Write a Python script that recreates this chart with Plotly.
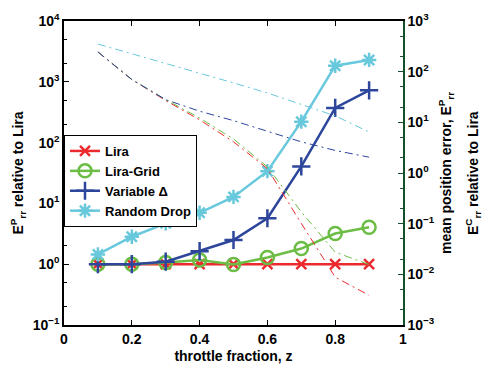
import plotly.graph_objects as go

# throttle fraction
z = [0.1, 0.2, 0.3, 0.4, 0.5, 0.6, 0.7, 0.8, 0.9]

# E^P_rr relative to Lira (left axis)
lira = [1.0, 1.0, 1.0, 1.0, 1.0, 1.0, 1.0, 1.0, 1.0]
lira_grid = [1.0, 1.0, 1.07, 1.17, 0.99, 1.29, 1.81, 3.2, 4.06]
variable_delta = [1.0, 1.0, 1.1, 1.64, 2.5, 5.7, 40.6, 372, 724]
random_drop = [1.45, 2.83, 4.7, 7.0, 12.8, 33.9, 221, 1840, 2290]

# mean position error (right axis)
err_lira = [245, 70, 26.9, 11.2, 4.12, 1.22, 0.101, 0.0088, 0.00386]
err_grid = [245, 70, 28, 12.2, 4.7, 1.32, 0.171, 0.0274, 0.0156]
err_var = [245, 70, 28, 16.6, 10.8, 6.65, 4.12, 2.79, 2.05]
err_rand = [351, 227, 147, 94, 60, 38, 22.5, 13.4, 6.45]

x_ticks = [0, 0.2, 0.4, 0.6, 0.8, 1]
x_labels = ["0", "0.2", "0.4", "0.6", "0.8", "1"]
left_exps = [-1, 0, 1, 2, 3, 4]
right_exps = [-3, -2, -1, 0, 1, 2, 3]

RED = "#ec2a2e"
GREEN = "#6cbd45"
BLUE = "#2d469c"
CYAN = "#68c8dc"
AXGREEN = "#14502a"
FONT = "Liberation Sans"


def exp_label(e):
    s = str(e).replace("-", "\u2212")
    return "<b>10<sup>%s</sup></b>" % s


fig = go.Figure()

series = [
    ("Lira", lira, RED, "x-thin-open", 10),
    ("Lira-Grid", lira_grid, GREEN, "circle-open", 13),
    ("Variable \u0394", variable_delta, BLUE, "cross-thin-open", 13),
    ("Random Drop", random_drop, CYAN, "asterisk-open", 12),
]
for name, vals, col, sym, size in series:
    fig.add_trace(go.Scatter(
        x=z, y=vals, name="<b>%s</b>" % name, mode="lines+markers",
        line=dict(color=col, width=2.5),
        marker=dict(symbol=sym, size=size, color=col,
                    line=dict(color=col, width=2.5)),
        yaxis="y",
    ))

for vals, col in [(err_lira, RED), (err_grid, GREEN),
                  (err_var, BLUE), (err_rand, CYAN)]:
    fig.add_trace(go.Scatter(
        x=z, y=vals, mode="lines", showlegend=False,
        line=dict(color=col, width=1, dash="8px,4px,2px,4px"),
        yaxis="y2",
    ))

tick_font = dict(family=FONT, size=14, color="black")

fig.update_layout(
    width=484, height=373,
    margin=dict(l=64, r=81, t=11, b=45),
    paper_bgcolor="white", plot_bgcolor="white",
    font=dict(family=FONT, size=14, color="black"),
    xaxis=dict(
        range=[0, 1], tickvals=x_ticks,
        ticktext=["<b>%s</b>" % t for t in x_labels],
        ticks="inside", ticklen=5, tickcolor="black",
        showline=True, linecolor="black", linewidth=1.5, mirror="ticks",
        showgrid=False, zeroline=False, tickfont=tick_font,
        title=dict(text="<b>throttle fraction, z</b>", standoff=6,
                   font=dict(family=FONT, size=14)),
    ),
    yaxis=dict(
        type="log", range=[-1, 4],
        tickvals=[10 ** e for e in left_exps],
        ticktext=[exp_label(e) for e in left_exps],
        ticks="inside", ticklen=5, tickcolor="black",
        minor=dict(ticks="inside", ticklen=3, tickcolor="black", showgrid=False),
        showline=True, linecolor="black", linewidth=1.5,
        showgrid=False, zeroline=False, tickfont=tick_font,
        title=dict(text="<b>E<sup>P</sup><sub>rr</sub> relative to Lira</b>",
                   standoff=6, font=dict(family=FONT, size=14)),
    ),
    yaxis2=dict(
        type="log", range=[-3, 3], overlaying="y", side="right",
        tickvals=[10 ** e for e in right_exps],
        ticktext=[exp_label(e) for e in right_exps],
        ticks="inside", ticklen=5, tickcolor=AXGREEN,
        minor=dict(ticks="inside", ticklen=3, tickcolor=AXGREEN, showgrid=False),
        showline=True, linecolor=AXGREEN, linewidth=1.5,
        showgrid=False, zeroline=False, tickfont=tick_font,
    ),
    legend=dict(
        x=0, y=0.625, xanchor="left", yanchor="top",
        bgcolor="white", bordercolor="black", borderwidth=1,
        font=dict(family=FONT, size=13, color="black"),
        tracegroupgap=0,
    ),
    annotations=[
        dict(text="<b>mean position error, E<sup>P</sup><sub>rr</sub></b>",
             xref="paper", yref="paper", x=(446 - 64) / 339, y=0.5,
             xanchor="center", yanchor="middle", textangle=-90,
             showarrow=False, font=dict(family=FONT, size=14)),
        dict(text="<b>E<sup>C</sup><sub>rr</sub> relative to Lira</b>",
             xref="paper", yref="paper", x=(473 - 64) / 339, y=0.5,
             xanchor="center", yanchor="middle", textangle=-90,
             showarrow=False, font=dict(family=FONT, size=14)),
    ],
)

fig.write_html("out.html")
